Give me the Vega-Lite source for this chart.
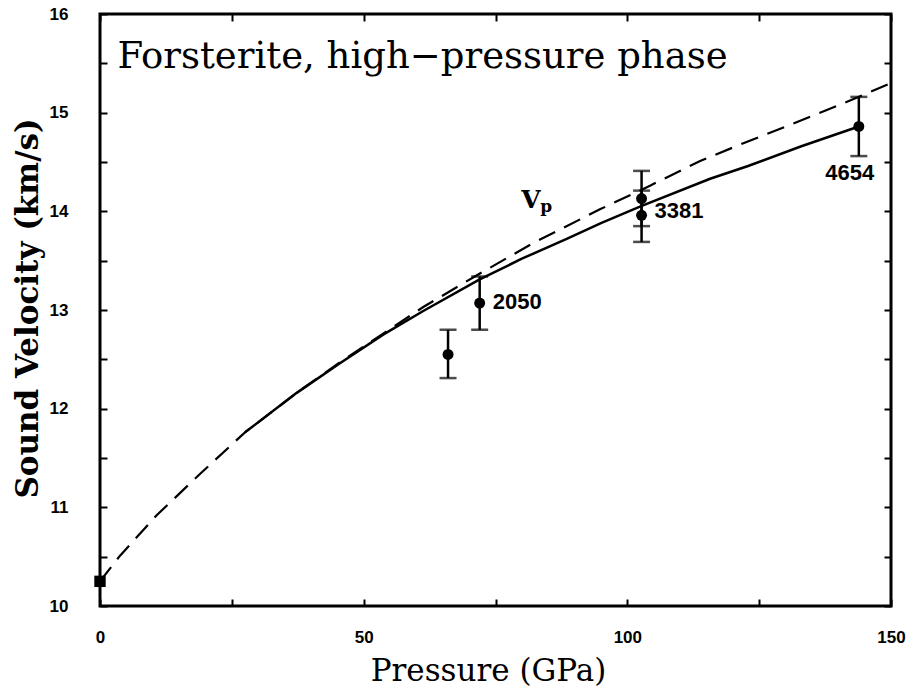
{
  "$schema": "https://vega.github.io/schema/vega-lite/v6.json",
  "width": 791,
  "height": 592,
  "autosize": {"type": "none"},
  "padding": {"left": 100, "top": 14, "right": 20, "bottom": 81},
  "background": "white",
  "config": {
    "view": {"stroke": "black", "strokeWidth": 3},
    "axis": {"grid": false, "domain": false, "tickColor": "black", "tickWidth": 2, "tickSize": -7, "labelColor": "black", "titleColor": "black", "labelFlush": false, "labelOverlap": false}
  },
  "datasets": {
    "dashed": [
      {"P": 0, "V": 10.25}, {"P": 3.8, "V": 10.51}, {"P": 10.75, "V": 10.92}, {"P": 19, "V": 11.34},
      {"P": 27.5, "V": 11.76}, {"P": 37.3, "V": 12.16}, {"P": 45.5, "V": 12.47}, {"P": 53.7, "V": 12.76},
      {"P": 61.3, "V": 13.03}, {"P": 71.4, "V": 13.35}, {"P": 82.2, "V": 13.68}, {"P": 94.8, "V": 14.02},
      {"P": 104.3, "V": 14.26}, {"P": 113.8, "V": 14.51}, {"P": 122, "V": 14.69}, {"P": 131.5, "V": 14.89},
      {"P": 140.3, "V": 15.08}, {"P": 150, "V": 15.3}
    ],
    "solid": [
      {"P": 27.5, "V": 11.76}, {"P": 37.3, "V": 12.16}, {"P": 45.5, "V": 12.46}, {"P": 53.7, "V": 12.75},
      {"P": 61.3, "V": 12.99}, {"P": 72, "V": 13.31}, {"P": 80, "V": 13.52}, {"P": 88.5, "V": 13.72},
      {"P": 95, "V": 13.88}, {"P": 102.5, "V": 14.05}, {"P": 115.7, "V": 14.33}, {"P": 122.9, "V": 14.46},
      {"P": 133, "V": 14.66}, {"P": 143.9, "V": 14.86}
    ],
    "pts": [
      {"P": 66.0, "V": 12.55, "lo": 12.31, "hi": 12.8, "label": ""},
      {"P": 72.0, "V": 13.07, "lo": 12.8, "hi": 13.34, "label": "2050"},
      {"P": 102.7, "V": 14.13, "lo": 13.85, "hi": 14.41, "label": ""},
      {"P": 102.7, "V": 13.96, "lo": 13.69, "hi": 14.21, "label": "3381"},
      {"P": 143.9, "V": 14.86, "lo": 14.56, "hi": 15.16, "label": "4654"}
    ],
    "start": [{"P": 0, "V": 10.25}],
    "one": [{"k": 1}]
  },
  "resolve": {"axis": {"x": "independent", "y": "independent"}},
  "layer": [
    {
      "data": {"name": "dashed"},
      "mark": {"type": "line", "color": "black", "strokeWidth": 2.2, "strokeDash": [18, 10], "clip": true},
      "encoding": {
        "x": {"field": "P", "type": "quantitative", "scale": {"domain": [0, 150], "nice": false, "zero": false},
          "axis": {"orient": "bottom", "values": [0, 25, 50, 75, 100, 125, 150],
            "labelExpr": "datum.value % 50 === 0 ? datum.label : ''",
            "labelFont": "Liberation Sans", "labelFontWeight": "bold", "labelFontSize": 17, "labelPadding": 30,
            "title": "Pressure (GPa)", "titleFont": "DejaVu Serif", "titleFontSize": 31, "titleFontWeight": "normal",
            "titleX": 388, "titleY": 65, "titleBaseline": "middle", "titleAlign": "center"}},
        "y": {"field": "V", "type": "quantitative", "scale": {"domain": [10, 16], "nice": false, "zero": false},
          "axis": {"orient": "left", "values": [10, 10.5, 11, 11.5, 12, 12.5, 13, 13.5, 14, 14.5, 15, 15.5, 16],
            "labelExpr": "datum.value % 1 === 0 ? format(datum.value, 'd') : ''",
            "labelFont": "Liberation Sans", "labelFontWeight": "bold", "labelFontSize": 17, "labelPadding": 39,
            "title": "Sound Velocity (km/s)", "titleFont": "DejaVu Serif", "titleFontSize": 31, "titleFontWeight": "bold",
            "titleAngle": -90, "titleX": -72, "titleY": 294, "titleBaseline": "middle", "titleAlign": "center"}}
      }
    },
    {
      "data": {"name": "solid"},
      "mark": {"type": "line", "color": "black", "strokeWidth": 2.5},
      "encoding": {
        "x": {"field": "P", "type": "quantitative", "axis": null},
        "y": {"field": "V", "type": "quantitative", "axis": null}
      }
    },
    {
      "data": {"name": "pts"},
      "mark": {"type": "rule", "color": "black", "strokeWidth": 2.5},
      "encoding": {
        "x": {"field": "P", "type": "quantitative", "axis": null},
        "y": {"field": "lo", "type": "quantitative", "axis": null},
        "y2": {"field": "hi"}
      }
    },
    {
      "data": {"name": "pts"},
      "mark": {"type": "tick", "color": "black", "orient": "horizontal", "size": 17, "thickness": 2.5},
      "encoding": {
        "x": {"field": "P", "type": "quantitative", "axis": null},
        "y": {"field": "lo", "type": "quantitative", "axis": null}
      }
    },
    {
      "data": {"name": "pts"},
      "mark": {"type": "tick", "color": "black", "orient": "horizontal", "size": 17, "thickness": 2.5},
      "encoding": {
        "x": {"field": "P", "type": "quantitative", "axis": null},
        "y": {"field": "hi", "type": "quantitative", "axis": null}
      }
    },
    {
      "data": {"name": "pts"},
      "mark": {"type": "circle", "color": "black", "opacity": 1, "size": 120},
      "encoding": {
        "x": {"field": "P", "type": "quantitative", "axis": null},
        "y": {"field": "V", "type": "quantitative", "axis": null}
      }
    },
    {
      "data": {"name": "start"},
      "mark": {"type": "square", "color": "black", "opacity": 1, "size": 130, "clip": false},
      "encoding": {
        "x": {"field": "P", "type": "quantitative", "axis": null},
        "y": {"field": "V", "type": "quantitative", "axis": null}
      }
    },
    {
      "data": {"name": "pts"},
      "transform": [{"filter": "datum.label === '2050'"}],
      "mark": {"type": "text", "font": "Liberation Sans", "fontWeight": "bold", "fontSize": 22, "align": "left", "baseline": "middle", "dx": 13, "dy": -1, "color": "black"},
      "encoding": {
        "x": {"field": "P", "type": "quantitative", "axis": null},
        "y": {"field": "V", "type": "quantitative", "axis": null},
        "text": {"field": "label"}
      }
    },
    {
      "data": {"name": "pts"},
      "transform": [{"filter": "datum.label === '3381'"}],
      "mark": {"type": "text", "font": "Liberation Sans", "fontWeight": "bold", "fontSize": 22, "align": "left", "baseline": "middle", "dx": 13, "dy": -4, "color": "black"},
      "encoding": {
        "x": {"field": "P", "type": "quantitative", "axis": null},
        "y": {"field": "V", "type": "quantitative", "axis": null},
        "text": {"field": "label"}
      }
    },
    {
      "data": {"name": "pts"},
      "transform": [{"filter": "datum.label === '4654'"}],
      "mark": {"type": "text", "font": "Liberation Sans", "fontWeight": "bold", "fontSize": 22, "align": "center", "baseline": "middle", "dx": -9, "dy": 47, "color": "black"},
      "encoding": {
        "x": {"field": "P", "type": "quantitative", "axis": null},
        "y": {"field": "V", "type": "quantitative", "axis": null},
        "text": {"field": "label"}
      }
    },
    {
      "data": {"name": "one"},
      "mark": {"type": "text", "text": "Forsterite, high−pressure phase", "font": "DejaVu Serif", "fontSize": 37, "align": "left", "baseline": "middle", "color": "black"},
      "encoding": {
        "x": {"datum": 3.3, "type": "quantitative", "axis": null},
        "y": {"datum": 15.56, "type": "quantitative", "axis": null}
      }
    },
    {
      "data": {"name": "one"},
      "mark": {"type": "text", "text": "V", "font": "DejaVu Serif", "fontWeight": "bold", "fontSize": 25, "align": "center", "baseline": "middle", "color": "black"},
      "encoding": {
        "x": {"datum": 81.7, "type": "quantitative", "axis": null},
        "y": {"datum": 14.115, "type": "quantitative", "axis": null}
      }
    },
    {
      "data": {"name": "one"},
      "mark": {"type": "text", "text": "p", "font": "DejaVu Serif", "fontWeight": "bold", "fontSize": 17, "align": "center", "baseline": "alphabetic", "color": "black"},
      "encoding": {
        "x": {"datum": 84.6, "type": "quantitative", "axis": null},
        "y": {"datum": 13.99, "type": "quantitative", "axis": null}
      }
    },
    {
      "data": {"name": "start"},
      "mark": {"type": "point", "opacity": 0},
      "encoding": {
        "x": {"field": "P", "type": "quantitative",
          "axis": {"orient": "top", "values": [0, 25, 50, 75, 100, 125, 150], "labels": false, "title": null}},
        "y": {"field": "V", "type": "quantitative",
          "axis": {"orient": "right", "values": [10, 10.5, 11, 11.5, 12, 12.5, 13, 13.5, 14, 14.5, 15, 15.5, 16], "labels": false, "title": null}}
      }
    }
  ]
}
